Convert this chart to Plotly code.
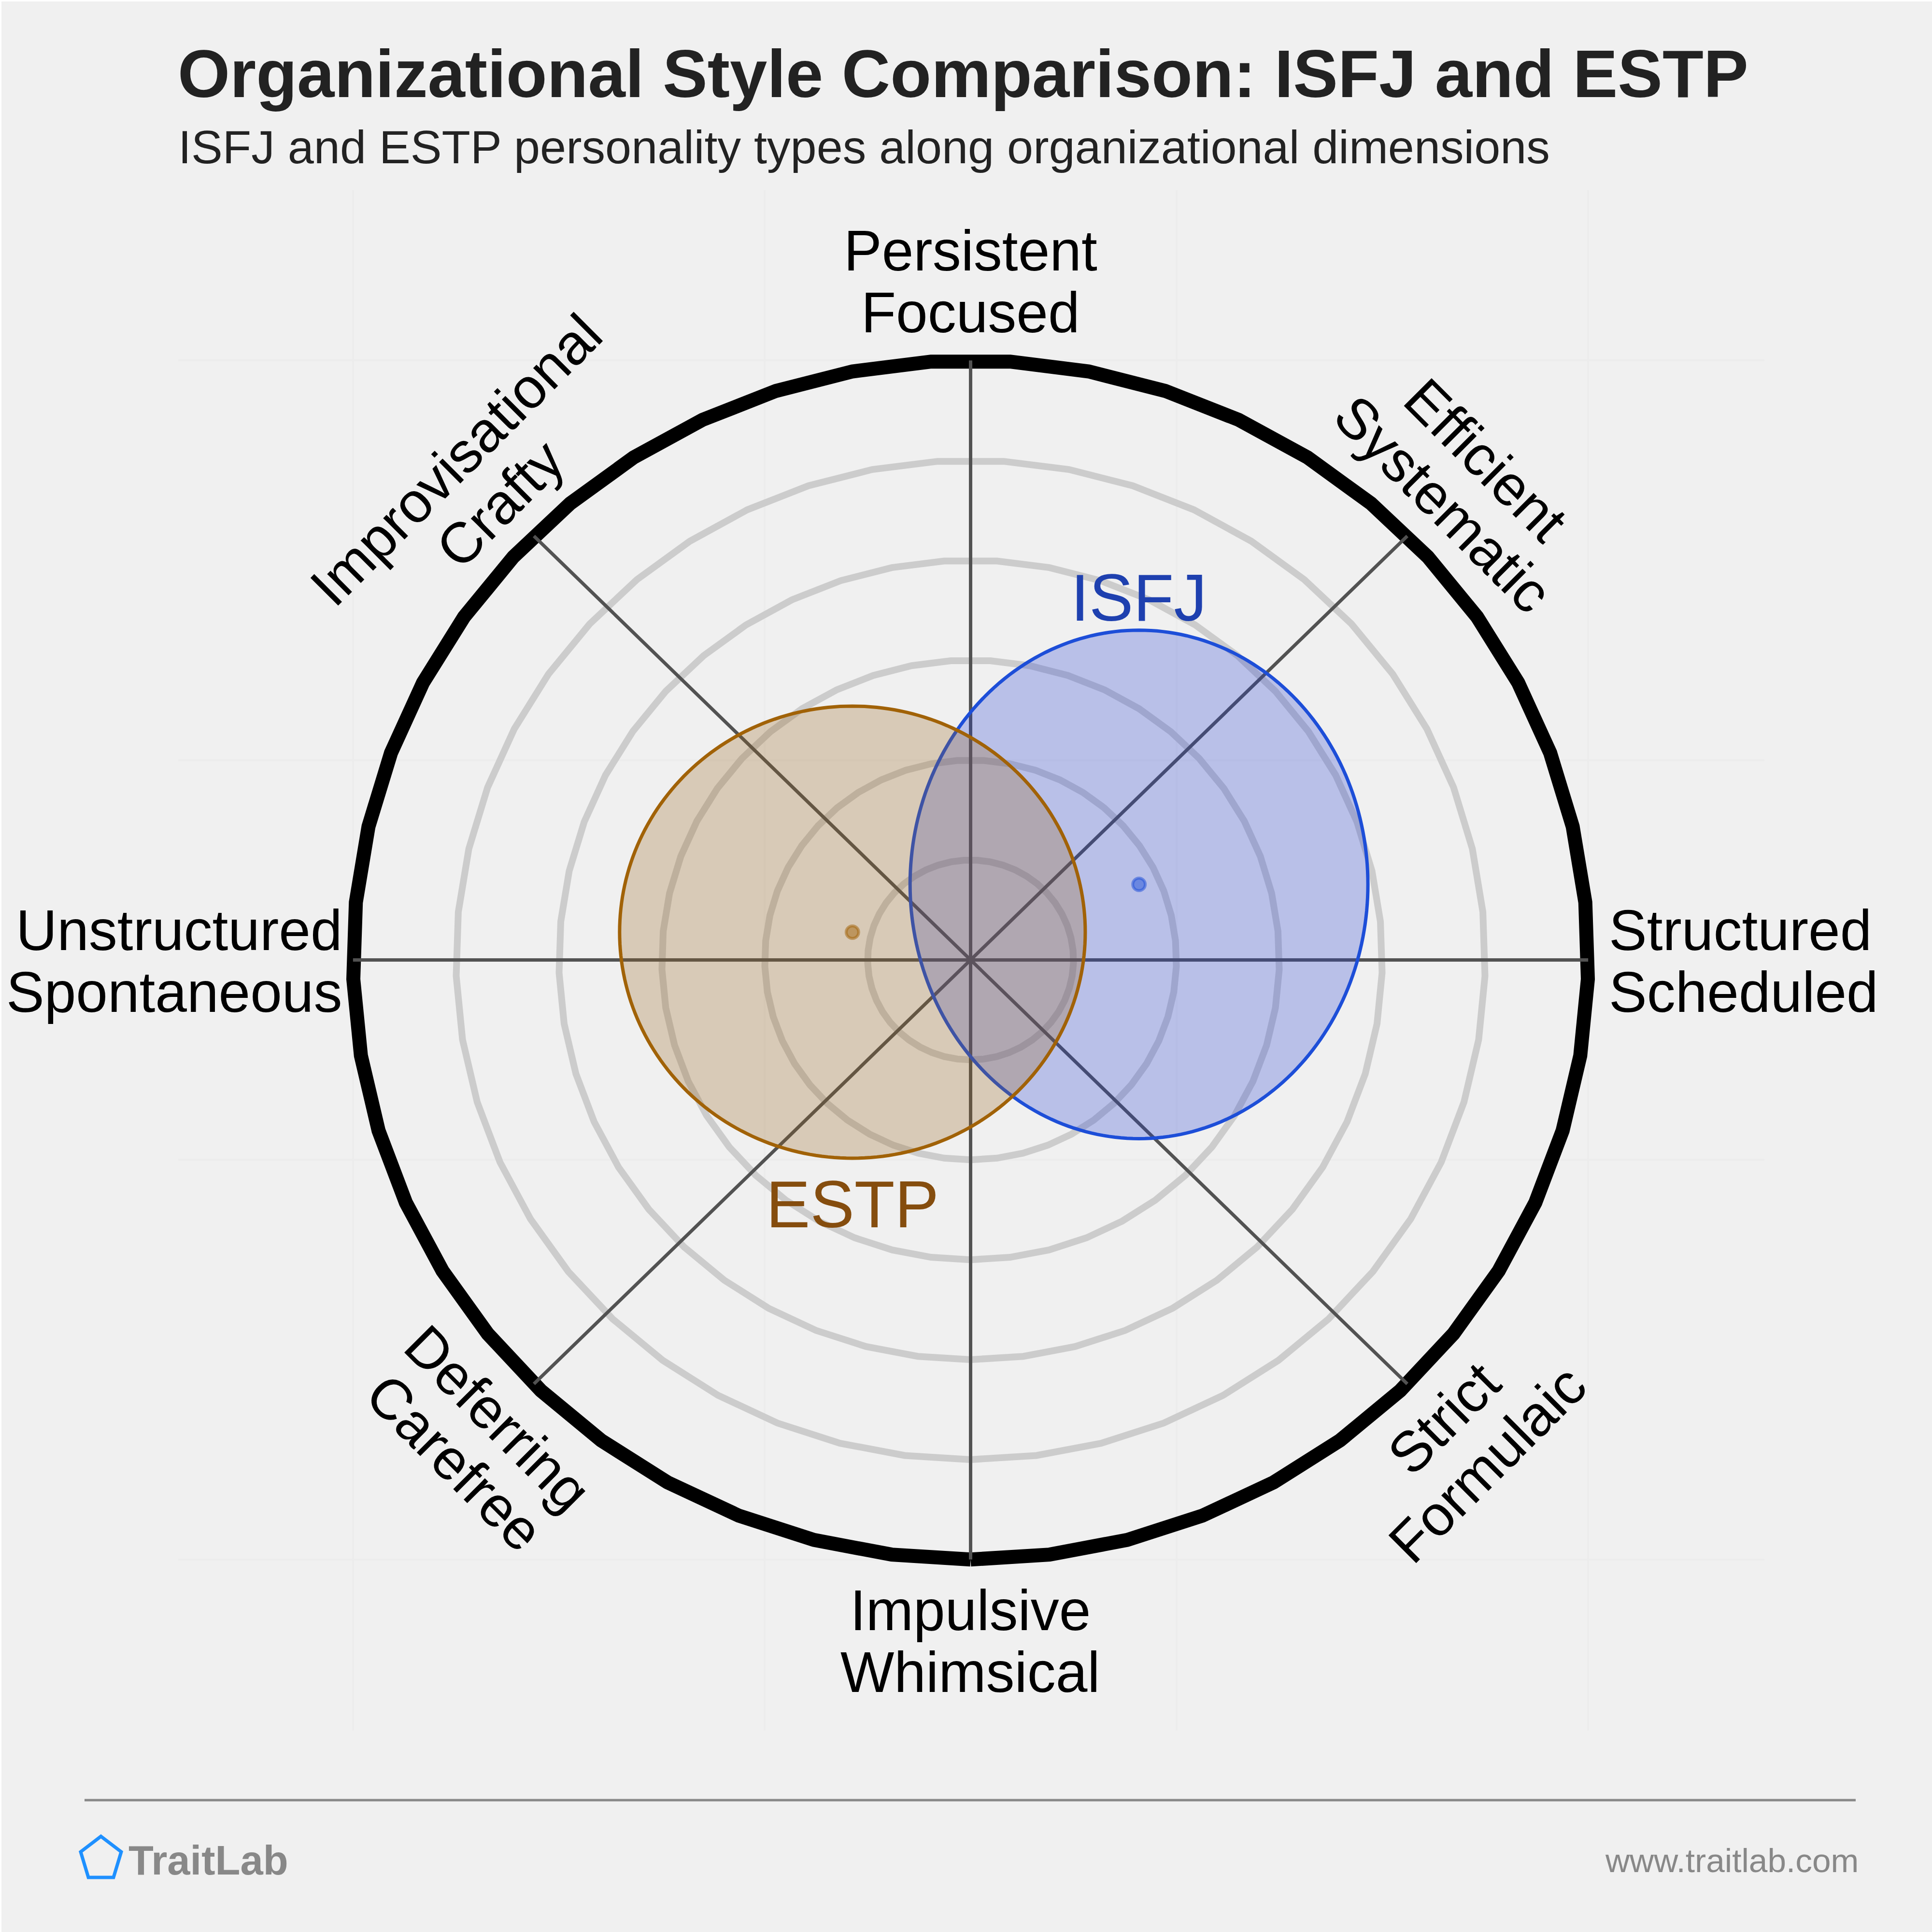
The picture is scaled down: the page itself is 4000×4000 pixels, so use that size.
import numpy as np
import plotly.graph_objects as go

# ---- data ----
ring_radii = [0.5, 1.0, 1.5, 2.0, 2.5]
outer_radius = 3.0
axis_angles_deg = [0, 45, 90, 135]
grid_ticks = [-3, -1, 1, 3]
type_names = ["ISFJ", "ESTP"]
center_x = [0.818, -0.574]
center_y = [0.378, 0.139]
radius_x = [1.112, 1.131]
radius_y = [1.272, 1.131]
line_colors = ["#1D4ED8", "#A16207"]
fill_colors = ["rgba(37,64,210,0.27)", "rgba(150,100,30,0.27)"]
dot_colors = ["rgba(29,78,216,0.5)", "rgba(161,98,7,0.5)"]
label_colors = ["#1E40AF", "#854D0E"]
title_text = "Organizational Style Comparison: ISFJ and ESTP"
subtitle_text = "ISFJ and ESTP personality types along organizational dimensions"
RING_POINTS = 50

W = H = 4000
def px(x): return x / W
def py(y): return 1 - y / H

fig = go.Figure()
theta = np.linspace(-np.pi / 2, 3 * np.pi / 2, RING_POINTS)
for r in ring_radii:
    fig.add_trace(go.Scatter(x=r * np.cos(theta), y=r * np.sin(theta), mode="lines",
                             line=dict(color="#CCCCCC", width=14, simplify=False), hoverinfo="skip"))
fig.add_trace(go.Scatter(x=outer_radius * np.cos(theta), y=outer_radius * np.sin(theta), mode="lines",
                         line=dict(color="#000000", width=29, simplify=False), hoverinfo="skip"))
for a in axis_angles_deg:
    c, s = np.cos(np.radians(a)), np.sin(np.radians(a))
    fig.add_trace(go.Scatter(x=[-outer_radius * c, outer_radius * c], y=[-outer_radius * s, outer_radius * s],
                             mode="lines", line=dict(color="#525252", width=7), hoverinfo="skip"))
t2 = np.linspace(0, 2 * np.pi, 241)
for i in range(2):
    fig.add_trace(go.Scatter(x=center_x[i] + radius_x[i] * np.cos(t2), y=center_y[i] + radius_y[i] * np.sin(t2),
                             mode="lines", fill="toself", fillcolor=fill_colors[i],
                             line=dict(color=line_colors[i], width=7, simplify=False), hoverinfo="skip"))
for i in range(2):
    fig.add_trace(go.Scatter(x=[center_x[i]], y=[center_y[i]], mode="markers",
                             marker=dict(size=26, color=dot_colors[i], line=dict(color=dot_colors[i], width=6)),
                             hoverinfo="skip"))

FONT = "Liberation Sans"
ann = []
def text(t, x, y, size, color="#000000", anchor="center", angle=0, bold=False):
    ann.append(dict(text=f"<b>{t}</b>" if bold else t, x=px(x), y=py(y), xref="paper", yref="paper",
                    xanchor=anchor, yanchor="middle", showarrow=False, textangle=angle,
                    font=dict(family=FONT, size=size, color=color)))
def base(t, x, baseline, size, **kw):
    text(t, x, baseline - 0.35 * size, size, **kw)

base(title_text, 366, 202, 139, color="#222222", anchor="left", bold=True)
base(subtitle_text, 367, 339, 97.2, color="#222222", anchor="left")
LS = 118
base("Persistent", 2009, 560, LS)
base("Focused", 2009, 688, LS)
base("Impulsive", 2009, 3375, LS)
base("Whimsical", 2009, 3503, LS)
base("Unstructured", 711, 1967, LS, anchor="right")
base("Spontaneous", 711, 2095, LS, anchor="right")
base("Structured", 3329, 1967, LS, anchor="left")
base("Scheduled", 3329, 2095, LS, anchor="left")
k = 4000 / 1568
text("Efficient", 1206 * k, 373 * k, LS, angle=45)
text("Systematic", 1171 * k, 409 * k, LS, angle=45)
text("Improvisational", 370 * k, 373 * k, LS, angle=-45)
text("Crafty", 406 * k, 409 * k, LS, angle=-45)
text("Deferring", 404 * k, 1151 * k, LS, angle=45)
text("Carefree", 369 * k, 1187 * k, LS, angle=45)
text("Strict", 1172 * k, 1151 * k, LS, angle=-45)
text("Formulaic", 1207 * k, 1188 * k, LS, angle=-45)
base("ISFJ", 2358, 600 + 1345 / 1.96 - 1, 137, color=label_colors[0])
base("ESTP", 1765, 995 * k + 3, 137, color=label_colors[1])
base("TraitLab", 264, 3881, 85, color="#888888", anchor="left", bold=True)
base("www.traitlab.com", 3850, 3876, 69.4, color="#888888", anchor="right")

shapes = [
    dict(type="rect", xref="paper", yref="paper", x0=px(3), x1=px(4000), y0=py(3), y1=py(4000),
         fillcolor="#F0F0F0", line=dict(width=0), layer="below"),
    dict(type="line", xref="paper", yref="paper", x0=px(175), x1=px(3842), y0=py(3727), y1=py(3727),
         line=dict(color="#888888", width=5)),
    dict(type="path", xref="paper", yref="paper",
         path=f"M {px(209)} {py(3802)} L {px(251)} {py(3834)} L {px(235)} {py(3887)} L {px(183)} {py(3887)} L {px(167)} {py(3834)} Z",
         line=dict(color="#1E90FF", width=7)),
]

fig.update_layout(
    width=W, height=H, autosize=False, showlegend=False,
    paper_bgcolor="#FFFFFF", plot_bgcolor="rgba(0,0,0,0)",
    margin=dict(l=0, r=0, t=0, b=0),
    xaxis=dict(domain=[369 / W, 3653 / W], range=[-3.849, 3.856], tickvals=grid_ticks, showticklabels=False,
               showgrid=True, gridcolor="#ECECEC", gridwidth=3.5, zeroline=False, showline=False, ticks=""),
    yaxis=dict(domain=[1 - 3583 / H, 1 - 394 / H], range=[-3.856, 3.851], tickvals=grid_ticks, showticklabels=False,
               showgrid=True, gridcolor="#ECECEC", gridwidth=3.5, zeroline=False, showline=False, ticks=""),
    annotations=ann, shapes=shapes,
)
fig.write_html("out.html", post_script="document.body.style.margin='0';", config={"displayModeBar": False})
